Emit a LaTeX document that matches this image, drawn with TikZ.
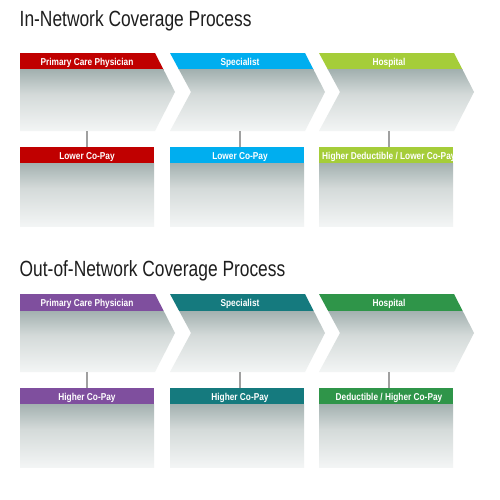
\documentclass[tikz,border=0pt]{standalone}
\usepackage{fontspec}
\setmainfont{Liberation Sans}
\newfontfamily\titlefont[FakeStretch=0.79]{Liberation Sans}
\newfontfamily\hdrfont[FakeStretch=0.83]{Liberation Sans}
\definecolor{cred}{RGB}{192,0,0}
\definecolor{ccyan}{RGB}{0,174,239}
\definecolor{clime}{RGB}{165,205,57}
\definecolor{cpurple}{RGB}{127,79,158}
\definecolor{cteal}{RGB}{21,122,126}
\definecolor{cgreen}{RGB}{47,149,73}
\definecolor{bodydark}{RGB}{163,177,176}
\definecolor{bodymid}{RGB}{212,218,217}
\definecolor{bodylight}{RGB}{243,245,245}
\definecolor{linegray}{RGB}{160,160,160}
\definecolor{titlegray}{RGB}{30,30,30}
\pgfdeclareverticalshading{bodyshade}{100bp}{color(0bp)=(bodylight); color(25bp)=(bodylight); color(55bp)=(bodymid); color(75bp)=(bodydark); color(100bp)=(bodydark)}
\tikzset{
  hdrbar/.style={minimum width=134pt, minimum height=16pt, inner sep=0pt, outer sep=0pt, anchor=north west},
  bodybox/.style={minimum width=134pt, minimum height=63pt, inner sep=0pt, outer sep=0pt, anchor=north west, shade, shading=bodyshade},
  hdrtext/.style={text=white, font=\hdrfont\bfseries\fontsize{10}{11}\selectfont, inner sep=0pt, anchor=base},
  conn/.style={draw=linegray, line width=1.3pt},
  ttl/.style={font=\titlefont\fontsize{22}{24}\selectfont, inner sep=0pt, anchor=base west, text=titlegray}
}
% #1 name, #2 x0, #3 y0, #4 colour, #5 text, #6 notch depth, #7 centre x
\newcommand\mychev[7]{%
  \begin{scope}
    \clip ({#2},{#3}) -- ({#2+135},{#3}) -- ({#2+155},{#3+39}) -- ({#2+135},{#3+78}) -- ({#2},{#3+78}) -- ({#2+#6},{#3+39}) -- cycle;
    \fill[#4] ({#2},{#3}) rectangle ({#2+160},{#3+17});
    \shade[shading=bodyshade] ({#2},{#3+17}) rectangle ({#2+160},{#3+78});
  \end{scope}
  \node[hdrtext] (#1t) at ({#7},{#3+12.7}) {#5};
  \coordinate (#1) at ({#7},{#3+78});
}
% #1 name, #2 x0, #3 y0, #4 colour, #5 text, #6 centre x
\newcommand\mybox[6]{%
  \node[hdrbar, fill=#4] (#1h) at ({#2},{#3}) {};
  \node[bodybox] (#1) at ({#2},{#3+16}) {};
  \node[hdrtext] (#1t) at ({#6},{#3+12.3}) {#5};
}
\begin{document}
\begin{tikzpicture}[x=1pt,y=-1pt]
\useasboundingbox[fill=white] (0,0) rectangle (500,500);

% ---------- In-Network ----------
\node[ttl] (title1) at (19.5,27) {In-Network Coverage Process};
\mychev{c1}{20}{53}{cred}{Primary Care Physician}{0}{87}
\mychev{c2}{170}{53}{ccyan}{Specialist}{21}{240}
\mychev{c3}{319}{53}{clime}{Hospital}{21}{389}
\mybox{b1}{20}{147}{cred}{Lower Co-Pay}{87}
\mybox{b2}{170}{147}{ccyan}{Lower Co-Pay}{240}
\node[hdrbar, fill=clime] (b3h) at (319,147) {};
\node[bodybox] (b3) at (319,163) {};
\begin{scope}
  \clip (319,147) rectangle (453,163);
  \node[hdrtext, anchor=base west] (b3t) at (322,159.3) {Higher Deductible / Lower Co-Pay};
\end{scope}
\draw[conn] (c1) -- (c1 |- b1h.north);
\draw[conn] (c2) -- (c2 |- b2h.north);
\draw[conn] (c3) -- (c3 |- b3h.north);

% ---------- Out-of-Network ----------
\node[ttl] (title2) at (19.5,276) {Out-of-Network Coverage Process};
\mychev{d1}{20}{294}{cpurple}{Primary Care Physician}{0}{87}
\mychev{d2}{170}{294}{cteal}{Specialist}{21}{240}
\mychev{d3}{319}{294}{cgreen}{Hospital}{21}{389}
\mybox{e1}{20}{388}{cpurple}{Higher Co-Pay}{87}
\mybox{e2}{170}{388}{cteal}{Higher Co-Pay}{240}
\mybox{e3}{319}{388}{cgreen}{Deductible / Higher Co-Pay}{389}
\draw[conn] (d1) -- (d1 |- e1h.north);
\draw[conn] (d2) -- (d2 |- e2h.north);
\draw[conn] (d3) -- (d3 |- e3h.north);
\end{tikzpicture}
\end{document}
